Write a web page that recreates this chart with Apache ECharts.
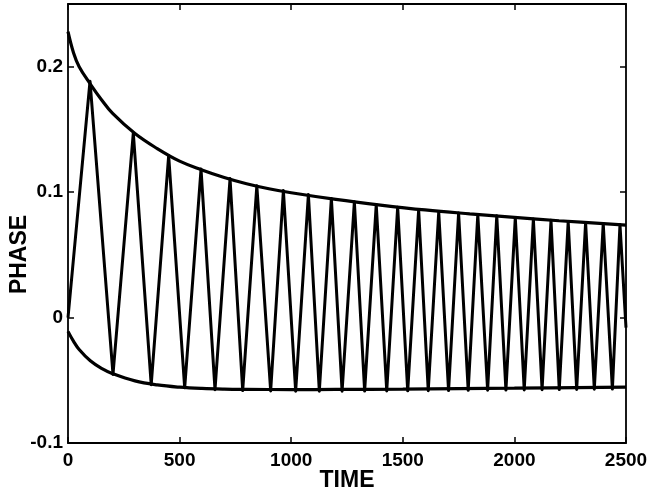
<!DOCTYPE html>
<html>
<head>
<meta charset="utf-8">
<script src="https://cdn.jsdelivr.net/npm/echarts@6/dist/echarts.min.js"></script>
<style>
html,body{margin:0;padding:0;background:#fff;}
#chart{width:649px;height:493px;}
</style>
</head>
<body>
<div id="chart"></div>
<script>
// Oscillation: start, alternating peaks / troughs, end
const startPoint = [0, 0.0];
const endPoint = [2500, -0.008];
const peakTimes = [98.6, 292.6, 451, 596, 726, 846, 965, 1077, 1180, 1283, 1381, 1477, 1571, 1661, 1750, 1836, 1921, 2004, 2085, 2164, 2241, 2319, 2398, 2473];
const peakValues = [0.1885, 0.1472, 0.1292, 0.1184, 0.1108, 0.1050, 0.1013, 0.0981, 0.0950, 0.0923, 0.0901, 0.0880, 0.0859, 0.0842, 0.0834, 0.0822, 0.0811, 0.0798, 0.0786, 0.0775, 0.0766, 0.0758, 0.0750, 0.0742];
const troughTimes = [201.6, 372.8, 522.8, 658.6, 782.7, 908, 1020, 1126, 1228, 1329, 1428, 1522, 1614, 1705, 1793, 1880, 1962, 2044, 2124, 2201, 2279, 2358, 2439];
const troughValues = [-0.0453, -0.0535, -0.0560, -0.0575, -0.0582, -0.0585, -0.0587, -0.0587, -0.0587, -0.0586, -0.0585, -0.0584, -0.0583, -0.0582, -0.0580, -0.0579, -0.0578, -0.0577, -0.0575, -0.0574, -0.0573, -0.0571, -0.0570];

// Upper envelope
const upperTimes = [0, 25, 50, 100, 150, 200, 300, 400, 500, 600, 700, 800, 900, 1000, 1200, 1400, 1600, 1800, 2000, 2200, 2500];
const upperValues = [0.228, 0.211, 0.200, 0.1862, 0.1737, 0.1627, 0.1467, 0.1347, 0.1247, 0.1177, 0.1117, 0.1067, 0.1027, 0.0995, 0.0942, 0.0897, 0.0858, 0.0827, 0.0799, 0.0772, 0.0737];

// Lower envelope
const lowerTimes = [0, 25, 50, 100, 150, 200, 300, 400, 500, 600, 700, 800, 1000, 1200, 1500, 2000, 2500];
const lowerValues = [-0.011, -0.019, -0.0255, -0.0345, -0.0405, -0.0447, -0.0505, -0.0537, -0.0555, -0.0565, -0.0570, -0.0572, -0.0574, -0.0573, -0.0570, -0.0563, -0.0555];

// Axis settings
const xMin = 0, xMax = 2500, xStep = 500;
const yMin = -0.1, yMax = 0.25, yStep = 0.1;
const xTitle = 'TIME';
const yTitle = 'PHASE';

const oscillation = [startPoint];
for (let i = 0; i < peakTimes.length; i++) {
  oscillation.push([peakTimes[i], peakValues[i]]);
  if (i < troughTimes.length) oscillation.push([troughTimes[i], troughValues[i]]);
}
oscillation.push(endPoint);
const upper = upperTimes.map((t, i) => [t, upperValues[i]]);
const lower = lowerTimes.map((t, i) => [t, lowerValues[i]]);

const FONT = '"Liberation Sans", Arial, Helvetica, sans-serif';
const axisLineStyle = { color: '#000', width: 1.8 };
const tickStyle = { show: true, inside: true, length: 6, lineStyle: { color: '#000', width: 1.5 } };
const labelStyle = { color: '#000', fontFamily: FONT, fontWeight: 'bold', fontSize: 19 };
const plainNum = v => String(Math.round(v * 1000) / 1000);

const chart = echarts.init(document.getElementById('chart'), null, { renderer: 'canvas' });
chart.setOption({
  animation: false,
  backgroundColor: '#fff',
  grid: { left: 68, right: 23, top: 4, bottom: 50, containLabel: false, outerBoundsMode: 'none' },
  xAxis: [
    {
      type: 'value', min: xMin, max: xMax, interval: xStep, position: 'bottom',
      name: xTitle, nameLocation: 'middle', nameGap: 26, nameMoveOverlap: false,
      nameTextStyle: { color: '#000', fontFamily: FONT, fontWeight: 'bold', fontSize: 23 },
      axisLine: { show: true, onZero: false, lineStyle: axisLineStyle },
      axisTick: tickStyle,
      axisLabel: Object.assign({ margin: 8, formatter: plainNum }, labelStyle),
      splitLine: { show: false }
    },
    {
      type: 'value', min: xMin, max: xMax, interval: xStep, position: 'top',
      axisLine: { show: true, onZero: false, lineStyle: axisLineStyle },
      axisTick: tickStyle,
      axisLabel: { show: false },
      splitLine: { show: false }
    }
  ],
  yAxis: [
    {
      type: 'value', min: yMin, max: yMax, interval: yStep, position: 'left',
      name: yTitle, nameLocation: 'middle', nameGap: 37, nameRotate: 90, nameMoveOverlap: false,
      nameTextStyle: { color: '#000', fontFamily: FONT, fontWeight: 'bold', fontSize: 23, padding: [0, 62, 0, 0] },
      axisLine: { show: true, onZero: false, lineStyle: axisLineStyle },
      axisTick: tickStyle,
      axisLabel: Object.assign({ margin: 5, showMaxLabel: false, formatter: plainNum }, labelStyle),
      splitLine: { show: false }
    },
    {
      type: 'value', min: yMin, max: yMax, interval: yStep, position: 'right',
      axisLine: { show: true, onZero: false, lineStyle: axisLineStyle },
      axisTick: tickStyle,
      axisLabel: { show: false },
      splitLine: { show: false }
    }
  ],
  series: [
    {
      name: 'oscillation', type: 'line', data: oscillation, showSymbol: false, symbol: 'none',
      lineStyle: { color: '#000', width: 3, join: 'round' }, z: 3
    },
    {
      name: 'upper', type: 'line', data: upper, showSymbol: false, symbol: 'none', smooth: 0.4,
      lineStyle: { color: '#000', width: 3.2 }, z: 2
    },
    {
      name: 'lower', type: 'line', data: lower, showSymbol: false, symbol: 'none', smooth: 0.4,
      lineStyle: { color: '#000', width: 3.2 }, z: 2
    }
  ]
});
</script>
</body>
</html>
